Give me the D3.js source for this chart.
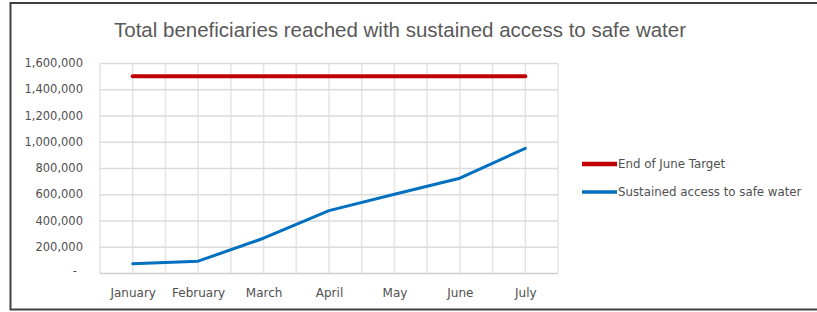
<!DOCTYPE html>
<html>
<head>
<meta charset="utf-8">
<script src="https://cdn.jsdelivr.net/npm/d3@7"></script>
<style>
  body { margin: 0; background: #fff; }
  svg { display: block; }
  .tick text { font-family: 'DejaVu Sans', sans-serif; fill: #505050; }
  .y.axis .tick text { font-size: 11.5px; }
  .x.axis .tick text { font-size: 12px; }
</style>
</head>
<body>
<div class="chart-container"></div>
<script>
// data
const months = ['January', 'February', 'March', 'April', 'May', 'June', 'July'];
const targetValues = [1500000, 1500000, 1500000, 1500000, 1500000, 1500000, 1500000];
const sustainedValues = [70000, 90000, 265000, 475000, 600000, 722000, 950000];
const yTicks = [0, 200000, 400000, 600000, 800000, 1000000, 1200000, 1400000, 1600000];
const seriesNames = ['End of June Target', 'Sustained access to safe water'];
const seriesColors = ['#c00000', '#0070c0'];

const svg_width = 817;
const svg_height = 312;
const chart_margin = { top: 63, right: 259, bottom: 39, left: 100 };
const chart_width = svg_width - (chart_margin.left + chart_margin.right);
const chart_height = svg_height - (chart_margin.top + chart_margin.bottom);

const svg = d3.select('.chart-container').append('svg')
    .attr('width', svg_width).attr('height', svg_height);

// outer frame (right edge is cropped in the original)
svg.append('path')
    .attr('d', `M${svg_width},3 H10.5 V309.5 H${svg_width}`)
    .attr('fill', 'none').attr('stroke', '#404040').attr('stroke-width', 2);

// title
svg.append('text')
    .attr('x', 400).attr('y', 37)
    .attr('text-anchor', 'middle')
    .style('font-family', "'Liberation Sans', sans-serif")
    .style('font-size', '20.5px')
    .style('fill', '#595959')
    .text('Total beneficiaries reached with sustained access to safe water');

const g = svg.append('g')
    .attr('transform', `translate(${chart_margin.left},${chart_margin.top})`);

// scales
const xScale = d3.scalePoint().domain(months).range([0, chart_width]).padding(0.5);
const yScale = d3.scaleLinear().domain([0, 1600000]).range([chart_height, 0]);

// vertical gridlines at category centres and halfway between them
const step = xScale.step();
const vGrid = d3.range(0, months.length * 2 + 1).map(i => i * step / 2);
g.append('g').selectAll('line')
    .data(vGrid)
    .enter().append('line')
    .attr('x1', d => d).attr('x2', d => d)
    .attr('y1', 0).attr('y2', chart_height)
    .attr('stroke', '#e4e4e4').attr('stroke-width', 1.5);

// y axis with horizontal gridlines
const yAxis = d3.axisLeft(yScale).tickValues(yTicks)
    .tickFormat(d => d === 0 ? '-' : d3.format(',')(d))
    .tickSizeInner(-chart_width).tickSizeOuter(0).tickPadding(17);
const yAxisDraw = g.append('g').attr('class', 'y axis').call(yAxis);
yAxisDraw.select('.domain').remove();
yAxisDraw.selectAll('.tick line').attr('stroke', '#dcdcdc').attr('stroke-width', 1.5);
yAxisDraw.selectAll('.tick:first-of-type line').attr('stroke', '#cfcfcf');
yAxisDraw.selectAll('.tick:first-of-type text').attr('dx', '-6px').attr('dy', '0.1em');

// x axis labels
const xAxis = d3.axisBottom(xScale).tickSize(0).tickPadding(15);
const xAxisDraw = g.append('g').attr('class', 'x axis')
    .attr('transform', `translate(0,${chart_height})`).call(xAxis);
xAxisDraw.select('.domain').remove();

// lines
const line = d3.line().x((d, i) => xScale(months[i])).y(d => yScale(d));
const series = [targetValues, sustainedValues];
const widths = [4, 3];
g.selectAll('.series')
    .data(series)
    .enter().append('path')
    .attr('class', 'series')
    .attr('d', line)
    .attr('fill', 'none')
    .attr('stroke', (d, i) => seriesColors[i])
    .attr('stroke-width', (d, i) => widths[i])
    .attr('stroke-linejoin', 'round')
    .attr('stroke-linecap', 'round');

// legend
const legend = svg.append('g').attr('transform', 'translate(582,164)');
const items = legend.selectAll('g')
    .data(seriesNames)
    .enter().append('g')
    .attr('transform', (d, i) => `translate(0,${i * 28})`);
items.append('line')
    .attr('x1', 0).attr('x2', 35)
    .attr('stroke', (d, i) => seriesColors[i])
    .attr('stroke-width', (d, i) => widths[i] + 0.5);
items.append('text')
    .attr('x', 36).attr('dy', '0.35em')
    .style('font-family', "'DejaVu Sans', sans-serif")
    .style('font-size', '11.8px')
    .style('fill', '#505050')
    .text(d => d);
</script>
</body>
</html>
